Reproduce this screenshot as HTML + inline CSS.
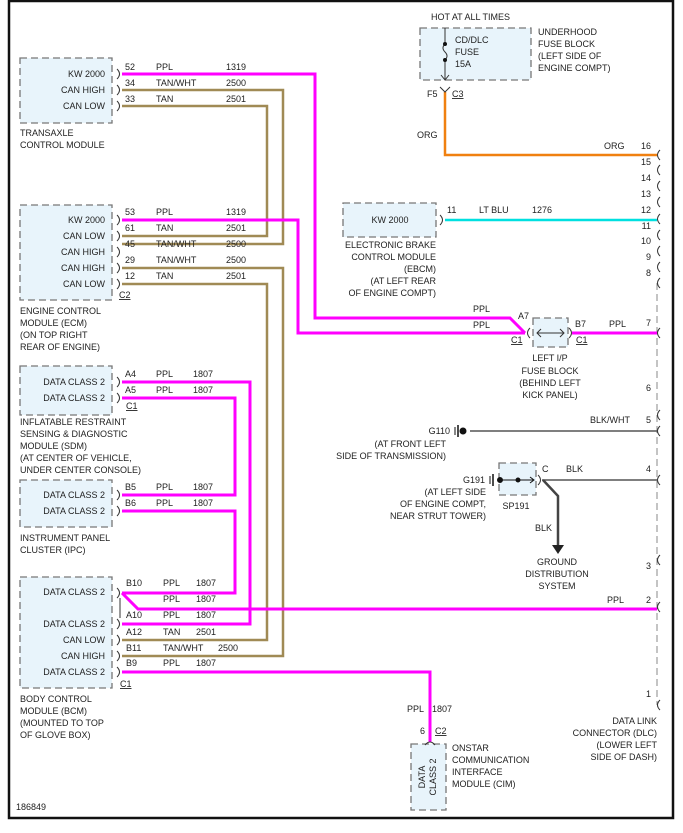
<!DOCTYPE html>
<html><head><meta charset="utf-8"><style>
html,body{margin:0;padding:0;background:#fff;}
svg{display:block;}
text{font-family:"Liberation Sans",Arial,sans-serif;font-size:9px;fill:#222;}
.r{text-anchor:end;}
.m{text-anchor:middle;}
.box{fill:#e8f4fb;stroke:#777;stroke-width:1.3;stroke-dasharray:7,4;}
.p{stroke:#ff00ff;stroke-width:3;fill:none;}
.t{stroke:#a08a55;stroke-width:2.5;fill:none;}
.c{fill:none;stroke:#333;stroke-width:1;}
</style></head><body>
<svg width="683" height="833" viewBox="0 0 683 833" xmlns="http://www.w3.org/2000/svg">
<rect x="9" y="1" width="664" height="817" fill="none" stroke="#111" stroke-width="2.5"/>

<!-- boxes -->
<rect class="box" x="20" y="58" width="92" height="65"/>
<rect class="box" x="20" y="205" width="92" height="95"/>
<rect class="box" x="20" y="366" width="92" height="49"/>
<rect class="box" x="20" y="480" width="92" height="47"/>
<rect class="box" x="20" y="577" width="92" height="111"/>
<rect class="box" x="411" y="744" width="35" height="66"/>
<rect class="box" x="420" y="28" width="111" height="52"/>
<rect class="box" x="343" y="203" width="93" height="34"/>
<rect class="box" x="533" y="318" width="35" height="29"/>
<rect class="box" x="499" y="463" width="37" height="32"/>

<!-- DLC dashed line -->
<line x1="657" y1="283" x2="657" y2="705" stroke="#888" stroke-width="1" stroke-dasharray="7,4"/>

<!-- wires tan -->
<path class="t" d="M122 90 H283 V244 H122"/>
<path class="t" d="M122 106 H267 V236 H122"/>
<path class="t" d="M122 268 H283 V656 H122"/>
<path class="t" d="M122 284 H267 V640 H122"/>
<!-- pink -->
<path class="p" d="M122 74 H315 V318 H510 L525 333"/>
<path class="p" d="M122 220 H298 V333 H525"/>
<path class="p" d="M572 333 H657"/>
<path class="p" d="M122 382 H250 V624 H122"/>
<path class="p" d="M122 398 H235 V495 H122"/>
<path class="p" d="M122 511 H235 V593 H122"/>
<path class="p" d="M122 593 L138 609 H657"/>
<path class="p" d="M122 672 H430 V742"/>
<!-- orange, cyan -->
<path d="M445 92 V155 H657" stroke="#f08010" stroke-width="2.5" fill="none"/>
<path d="M445 220 H657" stroke="#00e0e0" stroke-width="2.5" fill="none"/>
<!-- black -->
<path d="M470 431 H657" stroke="#555" stroke-width="1.5" fill="none"/>
<path d="M542 480 H657" stroke="#555" stroke-width="1.5" fill="none"/>
<path d="M543 480 L558 496 V546" stroke="#444" stroke-width="2.5" fill="none"/>
<polygon points="552,545 564,545 558,554" fill="#222"/>

<!-- connector arcs left modules -->
<g class="c">
<path d="M117 69 q5 5 0 10"/><path d="M117 85 q5 5 0 10"/><path d="M117 101 q5 5 0 10"/>
<path d="M117 215 q5 5 0 10"/><path d="M117 231 q5 5 0 10"/><path d="M117 247 q5 5 0 10"/><path d="M117 263 q5 5 0 10"/><path d="M117 279 q5 5 0 10"/>
<path d="M117 377 q5 5 0 10"/><path d="M117 393 q5 5 0 10"/>
<path d="M117 490 q5 5 0 10"/><path d="M117 506 q5 5 0 10"/>
<path d="M117 588 q5 5 0 10"/><path d="M117 619 q5 5 0 10"/><path d="M117 635 q5 5 0 10"/><path d="M117 651 q5 5 0 10"/><path d="M117 667 q5 5 0 10"/>
<path d="M120 598 V618"/>
<path d="M440 215 q5 5 0 10"/>
<path d="M425 745 q5 -6 10 0"/>
<path d="M530 328 q-5 5 0 10"/><path d="M569 328 q5 5 0 10"/>
<path d="M538 475 q5 5 0 10"/>
<path d="M440 87 l5 5 l5 -5"/>
</g>
<!-- DLC arcs -->
<g class="c">
<path d="M660 150 q-5 5 0 10"/><path d="M660 165 q-5 5 0 10"/><path d="M660 181 q-5 5 0 10"/><path d="M660 197 q-5 5 0 10"/><path d="M660 214 q-5 5 0 10"/><path d="M660 230 q-5 5 0 10"/><path d="M660 246 q-5 5 0 10"/><path d="M660 262 q-5 5 0 10"/><path d="M660 278 q-5 5 0 10"/>
<path d="M660 328 q-5 5 0 10"/><path d="M660 410 q-5 5 0 10"/><path d="M660 426 q-5 5 0 10"/><path d="M660 475 q-5 5 0 10"/><path d="M660 555 q-5 5 0 10"/><path d="M660 602 q-5 5 0 10"/><path d="M660 700 q-5 5 0 10"/>
</g>

<!-- fuse -->
<line x1="445" y1="28" x2="445" y2="80" stroke="#333" stroke-width="1"/>
<rect x="441" y="44" width="8" height="16" fill="#e8f4fb"/>
<path d="M445 44 q-4 4 0 8 q4 4 0 8" fill="none" stroke="#333"/>
<circle cx="445" cy="44" r="2" fill="#111"/><circle cx="445" cy="60" r="2" fill="#111"/>
<path d="M441 75 l4 5 l4 -5" fill="none" stroke="#333"/>
<!-- I/P fuse arrows -->
<path d="M537 333 H564 M541 329 l-4 4 l4 4 M560 329 l4 4 l-4 4" fill="none" stroke="#333"/>
<!-- grounds -->
<g stroke="#111" fill="#111">
<line x1="455" y1="427" x2="455" y2="435"/><line x1="458" y1="425" x2="458" y2="437" stroke-width="1.5"/><circle cx="463" cy="431" r="3"/>
<line x1="490" y1="476" x2="490" y2="484"/><line x1="493" y1="474" x2="493" y2="486" stroke-width="1.5"/><circle cx="500" cy="480" r="2.5"/>
<line x1="500" y1="480" x2="533" y2="480"/><circle cx="518" cy="480" r="2"/>
</g>
<path d="M530 477 l4 3 l-4 3" fill="none" stroke="#111"/>

<!-- TCM -->
<text class="r" x="105" y="77">KW 2000</text><text class="r" x="105" y="93">CAN HIGH</text><text class="r" x="105" y="109">CAN LOW</text>
<text x="125" y="70">52</text><text x="156" y="70">PPL</text><text x="226" y="70">1319</text>
<text x="125" y="86">34</text><text x="156" y="86">TAN/WHT</text><text x="226" y="86">2500</text>
<text x="125" y="102">33</text><text x="156" y="102">TAN</text><text x="226" y="102">2501</text>
<text x="20" y="136">TRANSAXLE</text><text x="20" y="148">CONTROL MODULE</text>
<!-- ECM -->
<text class="r" x="105" y="223">KW 2000</text><text class="r" x="105" y="239">CAN LOW</text><text class="r" x="105" y="255">CAN HIGH</text><text class="r" x="105" y="271">CAN HIGH</text><text class="r" x="105" y="287">CAN LOW</text>
<text x="125" y="215">53</text><text x="156" y="215">PPL</text><text x="226" y="215">1319</text>
<text x="125" y="231">61</text><text x="156" y="231">TAN</text><text x="226" y="231">2501</text>
<text x="125" y="247">45</text><text x="156" y="247">TAN/WHT</text><text x="226" y="247">2500</text>
<text x="125" y="263">29</text><text x="156" y="263">TAN/WHT</text><text x="226" y="263">2500</text>
<text x="125" y="279">12</text><text x="156" y="279">TAN</text><text x="226" y="279">2501</text>
<text x="119" y="298" text-decoration="underline">C2</text>
<text x="20" y="314">ENGINE CONTROL</text><text x="20" y="326">MODULE (ECM)</text><text x="20" y="338">(ON TOP RIGHT</text><text x="20" y="350">REAR OF ENGINE)</text>
<!-- SDM -->
<text class="r" x="105" y="385">DATA CLASS 2</text><text class="r" x="105" y="401">DATA CLASS 2</text>
<text x="125" y="377">A4</text><text x="156" y="377">PPL</text><text x="193" y="377">1807</text>
<text x="125" y="393">A5</text><text x="156" y="393">PPL</text><text x="193" y="393">1807</text>
<text x="126" y="409" text-decoration="underline">C1</text>
<text x="20" y="425">INFLATABLE RESTRAINT</text><text x="20" y="437">SENSING &amp; DIAGNOSTIC</text><text x="20" y="449">MODULE (SDM)</text><text x="20" y="461">(AT CENTER OF VEHICLE,</text><text x="20" y="473">UNDER CENTER CONSOLE)</text>
<!-- IPC -->
<text class="r" x="105" y="498">DATA CLASS 2</text><text class="r" x="105" y="514">DATA CLASS 2</text>
<text x="125" y="490">B5</text><text x="156" y="490">PPL</text><text x="193" y="490">1807</text>
<text x="125" y="506">B6</text><text x="156" y="506">PPL</text><text x="193" y="506">1807</text>
<text x="20" y="541">INSTRUMENT PANEL</text><text x="20" y="553">CLUSTER (IPC)</text>
<!-- BCM -->
<text class="r" x="105" y="595">DATA CLASS 2</text><text class="r" x="105" y="627">DATA CLASS 2</text><text class="r" x="105" y="643">CAN LOW</text><text class="r" x="105" y="659">CAN HIGH</text><text class="r" x="105" y="675">DATA CLASS 2</text>
<text x="126" y="586">B10</text><text x="163" y="586">PPL</text><text x="196" y="586">1807</text>
<text x="163" y="602">PPL</text><text x="196" y="602">1807</text>
<text x="126" y="618">A10</text><text x="163" y="618">PPL</text><text x="196" y="618">1807</text>
<text x="126" y="635">A12</text><text x="163" y="635">TAN</text><text x="196" y="635">2501</text>
<text x="126" y="651">B11</text><text x="163" y="651">TAN/WHT</text><text x="218" y="651">2500</text>
<text x="126" y="666">B9</text><text x="163" y="666">PPL</text><text x="196" y="666">1807</text>
<text x="120" y="687" text-decoration="underline">C1</text>
<text x="20" y="702">BODY CONTROL</text><text x="20" y="714">MODULE (BCM)</text><text x="20" y="726">(MOUNTED TO TOP</text><text x="20" y="738">OF GLOVE BOX)</text>
<text x="16" y="810">186849</text>
<!-- CIM -->
<text x="407" y="712">PPL</text><text x="432" y="712">1807</text>
<text x="420" y="734">6</text><text x="435" y="734" text-decoration="underline">C2</text>
<text transform="translate(425,777) rotate(-90)" class="m">DATA</text>
<text transform="translate(436,777) rotate(-90)" class="m">CLASS 2</text>
<text x="452" y="751">ONSTAR</text><text x="452" y="763">COMMUNICATION</text><text x="452" y="775">INTERFACE</text><text x="452" y="787">MODULE (CIM)</text>
<!-- Underhood -->
<text x="431" y="20">HOT AT ALL TIMES</text>
<text x="455" y="43">CD/DLC</text><text x="455" y="55">FUSE</text><text x="455" y="67">15A</text>
<text x="538" y="35">UNDERHOOD</text><text x="538" y="47">FUSE BLOCK</text><text x="538" y="59">(LEFT SIDE OF</text><text x="538" y="71">ENGINE COMPT)</text>
<text x="427" y="97">F5</text><text x="452" y="97" text-decoration="underline">C3</text>
<text x="417" y="138">ORG</text><text x="604" y="149">ORG</text>
<!-- EBCM -->
<text class="m" x="390" y="223">KW 2000</text>
<text x="447" y="213">11</text><text x="479" y="213">LT BLU</text><text x="532" y="213">1276</text>
<text class="r" x="436" y="248">ELECTRONIC BRAKE</text><text class="r" x="436" y="260">CONTROL MODULE</text><text class="r" x="436" y="272">(EBCM)</text><text class="r" x="436" y="284">(AT LEFT REAR</text><text class="r" x="436" y="296">OF ENGINE COMPT)</text>
<!-- I/P fuse block -->
<text x="473" y="312">PPL</text><text x="473" y="328">PPL</text>
<text x="518" y="319">A7</text><text x="511" y="343" text-decoration="underline">C1</text>
<text x="575" y="327">B7</text><text x="576" y="343" text-decoration="underline">C1</text>
<text x="609" y="327">PPL</text>
<text class="m" x="550" y="361">LEFT I/P</text><text class="m" x="550" y="374">FUSE BLOCK</text><text class="m" x="550" y="386">(BEHIND LEFT</text><text class="m" x="550" y="398">KICK PANEL)</text>
<!-- G110 -->
<text x="590" y="423">BLK/WHT</text>
<text class="r" x="450" y="434">G110</text>
<text class="r" x="446" y="447">(AT FRONT LEFT</text><text class="r" x="446" y="459">SIDE OF TRANSMISSION)</text>
<!-- G191 -->
<text x="542" y="472">C</text><text x="566" y="472">BLK</text>
<text class="r" x="485" y="483">G191</text>
<text class="r" x="486" y="495">(AT LEFT SIDE</text><text class="r" x="486" y="507">OF ENGINE COMPT,</text><text class="r" x="486" y="519">NEAR STRUT TOWER)</text>
<text class="m" x="516" y="509">SP191</text>
<text x="535" y="531">BLK</text>
<text class="m" x="557" y="565">GROUND</text><text class="m" x="557" y="577">DISTRIBUTION</text><text class="m" x="557" y="589">SYSTEM</text>
<text x="607" y="603">PPL</text>
<!-- DLC numbers -->
<g class="r">
<text class="r" x="651" y="149">16</text><text class="r" x="651" y="165">15</text><text class="r" x="651" y="181">14</text><text class="r" x="651" y="197">13</text><text class="r" x="651" y="213">12</text><text class="r" x="651" y="229">11</text><text class="r" x="651" y="244">10</text><text class="r" x="651" y="260">9</text><text class="r" x="651" y="276">8</text>
<text class="r" x="651" y="326">7</text><text class="r" x="651" y="391">6</text><text class="r" x="651" y="423">5</text><text class="r" x="651" y="472">4</text><text class="r" x="651" y="569">3</text><text class="r" x="651" y="603">2</text><text class="r" x="651" y="697">1</text>
</g>
<text class="r" x="657" y="724">DATA LINK</text><text class="r" x="657" y="736">CONNECTOR (DLC)</text><text class="r" x="657" y="748">(LOWER LEFT</text><text class="r" x="657" y="760">SIDE OF DASH)</text>
</svg>
</body></html>
